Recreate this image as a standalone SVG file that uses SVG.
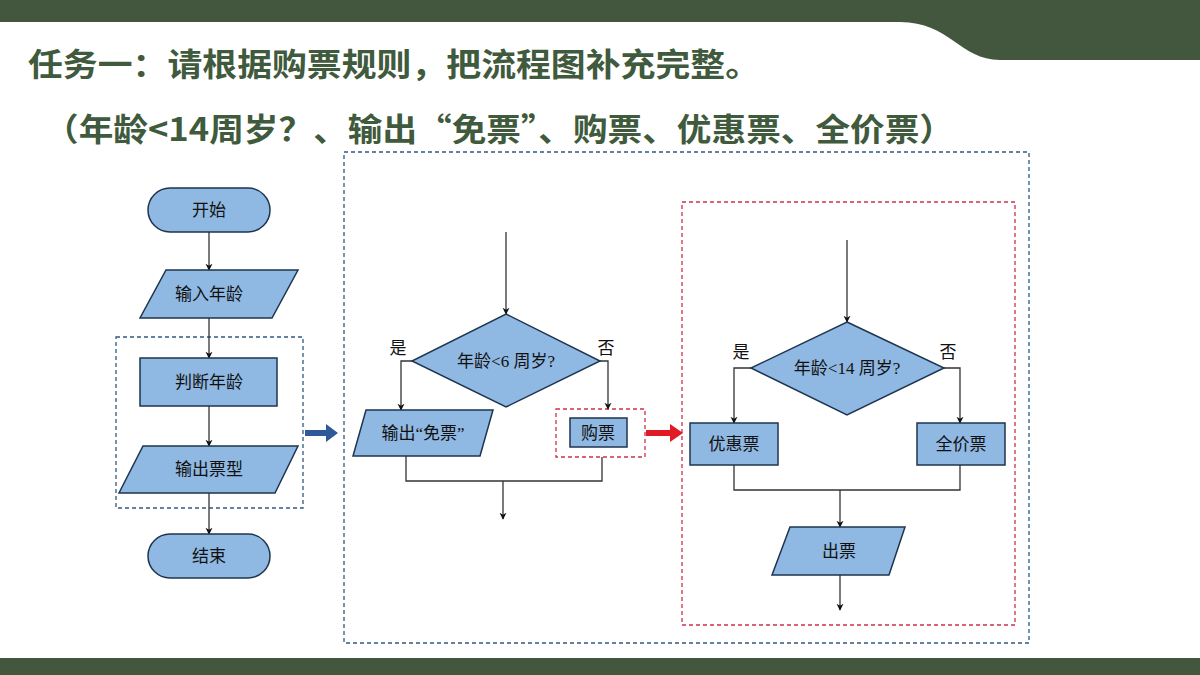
<svg xmlns="http://www.w3.org/2000/svg" width="1200" height="675" viewBox="0 0 1200 675">
<defs>
<marker id="ah" viewBox="0 0 10 10" refX="9" refY="5" markerWidth="7" markerHeight="9" orient="auto" markerUnits="userSpaceOnUse"><path d="M0,0 L10,5 L0,10 L3,5 Z" fill="#111"/></marker>
</defs>
<style>
.s{fill:#8fb8e2;stroke:#1e3550;stroke-width:1.5}
.t{font-family:"Liberation Serif","Noto Sans CJK SC",serif;font-size:17px;fill:#111;text-anchor:middle;dominant-baseline:central}
.c{fill:none;stroke:#333;stroke-width:1.3}
.h{font-family:"Noto Sans CJK SC",sans-serif;font-weight:bold;fill:#3f5a3c}
</style>
<rect width="1200" height="675" fill="#fff"/>
<path d="M0,0 H1200 V60 H1000 C960,60 950,22 900,22 H0 Z" fill="#43563e"/>
<rect x="0" y="658" width="1200" height="17" fill="#43563e"/>
<text class="h" x="28" y="76" font-size="32" textLength="732" lengthAdjust="spacingAndGlyphs">任务一：请根据购票规则，把流程图补充完整。</text>
<text class="h" x="44" y="141" font-size="32" textLength="910" lengthAdjust="spacingAndGlyphs">（年龄&lt;14周岁？、输出“免票”、购票、优惠票、全价票）</text>
<rect x="116" y="337" width="187" height="171" fill="none" stroke="#2f5a80" stroke-dasharray="4,3" stroke-width="1.3"/>
<rect x="344" y="152" width="685" height="491" fill="none" stroke="#2f5a80" stroke-dasharray="4,3" stroke-width="1.3"/>
<rect x="556" y="409" width="89" height="48" fill="none" stroke="#d0304a" stroke-dasharray="4,3" stroke-width="1.3"/>
<rect x="682" y="202" width="333" height="423" fill="none" stroke="#d0304a" stroke-dasharray="4,3" stroke-width="1.3"/>
<g id="connectors">
<line class="c" x1="209" y1="232" x2="209" y2="270" marker-end="url(#ah)"/>
<line class="c" x1="209" y1="318" x2="209" y2="358" marker-end="url(#ah)"/>
<line class="c" x1="209" y1="406" x2="209" y2="446" marker-end="url(#ah)"/>
<line class="c" x1="209" y1="493" x2="209" y2="534" marker-end="url(#ah)"/>
<line class="c" x1="506" y1="232" x2="506" y2="314" marker-end="url(#ah)"/>
<polyline class="c" points="412,361 401,361 401,410" marker-end="url(#ah)"/>
<polyline class="c" points="600,361 608,361 608,409" marker-end="url(#ah)"/>
<polyline class="c" points="406,456 406,481 602,481 602,457"/>
<line class="c" x1="503" y1="481" x2="503" y2="519" marker-end="url(#ah)"/>
<line class="c" x1="847" y1="240" x2="847" y2="322" marker-end="url(#ah)"/>
<polyline class="c" points="751,368 734,368 734,423" marker-end="url(#ah)"/>
<polyline class="c" points="944,368 960,368 960,423" marker-end="url(#ah)"/>
<polyline class="c" points="734,465 734,490 960,490 960,465"/>
<line class="c" x1="840" y1="490" x2="840" y2="527" marker-end="url(#ah)"/>
<line class="c" x1="840" y1="575" x2="840" y2="610" marker-end="url(#ah)"/>
<path d="M305,430 H326 V424 L338,433 L326,442 V436 H305 Z" fill="#2f5a9a"/>
<path d="M646,430 H670 V424 L683,433 L670,442 V436 H646 Z" fill="#e01b24"/>
</g>
<g id="start"><rect class="s" x="148" y="188" width="122" height="44" rx="22"/><text class="t" x="209" y="210">开始</text></g>
<g id="input"><polygon class="s" points="166,270 298,270 272,318 140,318"/><text class="t" x="209" y="294">输入年龄</text></g>
<g id="judge"><rect class="s" x="140" y="358" width="137" height="48"/><text class="t" x="209" y="382">判断年龄</text></g>
<g id="output"><polygon class="s" points="143,446 298,446 275,493 119,493"/><text class="t" x="209" y="469">输出票型</text></g>
<g id="end"><rect class="s" x="148" y="534" width="122" height="44" rx="22"/><text class="t" x="209" y="556">结束</text></g>
<g id="d6"><polygon class="s" points="506,314 600,361 506,407 412,361"/><text class="t" x="506" y="361">年龄&lt;6 周岁?</text><text class="t" x="398" y="348">是</text><text class="t" x="606" y="348">否</text></g>
<g id="free"><polygon class="s" points="366,410 493,410 480,456 353,456"/><text class="t" x="423" y="433">输出“免票”</text></g>
<g id="buy"><rect class="s" x="570" y="418" width="57" height="29"/><text class="t" x="598" y="433">购票</text></g>
<g id="d14"><polygon class="s" points="847,322 944,368 847,415 751,368"/><text class="t" x="847" y="368">年龄&lt;14 周岁?</text><text class="t" x="741" y="352">是</text><text class="t" x="948" y="352">否</text></g>
<g id="disc"><rect class="s" x="690" y="423" width="88" height="42"/><text class="t" x="734" y="444">优惠票</text></g>
<g id="full"><rect class="s" x="917" y="423" width="88" height="42"/><text class="t" x="961" y="444">全价票</text></g>
<g id="ticket"><polygon class="s" points="790,527 905,527 889,575 772,575"/><text class="t" x="839" y="551">出票</text></g>
</svg>
